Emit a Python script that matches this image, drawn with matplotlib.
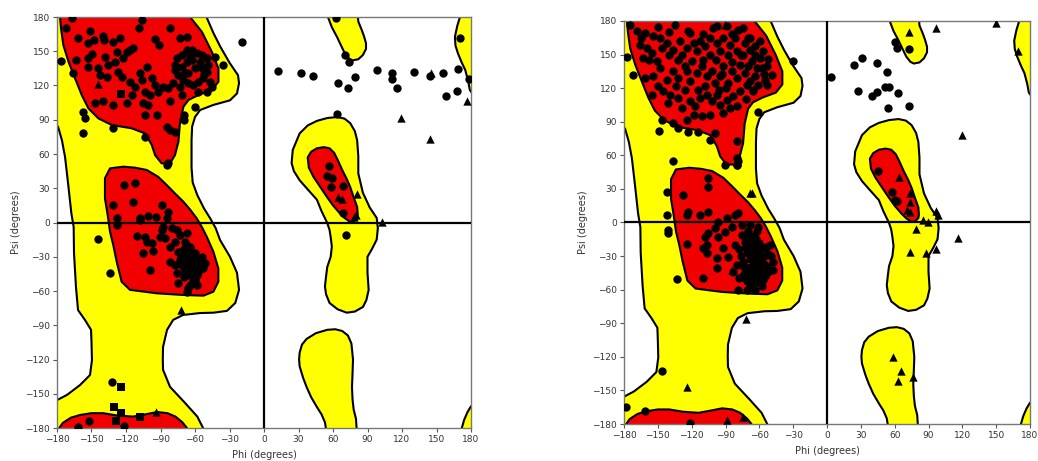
import matplotlib
matplotlib.use('Agg')
import matplotlib.pyplot as plt
import numpy as np

# --- favoured / allowed regions (phi, psi), drawn past the frame so edges get clipped
allowed_main = [(-190, 188), (-52, 188), (-50, 180), (-44, 166), (-38, 154), (-30, 140), (-22.6, 129),
                (-21.7, 122), (-23.5, 113), (-29.6, 107), (-44, 103), (-55.6, 98.5), (-60, 92.4),
                (-62.5, 84), (-63, 72), (-63, 60), (-63, 48), (-62, 35), (-58, 24), (-52, 12),
                (-47, 4), (-42, -5), (-38.2, -15.4), (-29.6, -30), (-23.5, -44), (-21.7, -59),
                (-25, -70.5), (-32.2, -77.4), (-44, -79), (-55.6, -79.3), (-70.4, -81), (-79, -85.3),
                (-84.3, -94), (-87.8, -109), (-88, -120), (-87.8, -129), (-81.7, -144), (-68.7, -158),
                (-58, -170), (-53, -180), (-51, -188), (-190, -188), (-190, -155.6), (-180, -155.6),
                (-171.3, -151), (-160, -142.4), (-151.3, -133.6), (-149.6, -120.5), (-150, -105),
                (-150.4, -94), (-155.6, -85.5), (-161.7, -76.7), (-163.5, -56.5), (-165.2, -27),
                (-165.5, -4), (-167.5, 8), (-170.4, 34.6), (-173, 57.4), (-175.7, 72), (-179, 83.6),
                (-182, 88), (-190, 88)]
favoured_beta = [(-177.4, 188), (-64.3, 188), (-64.3, 180), (-54, 167), (-45.4, 149.6), (-39.6, 135),
                 (-39.6, 123.3), (-45.4, 116), (-57, 111.7), (-65.7, 107.3), (-70, 101.5), (-73, 88.3),
                 (-74.4, 70.8), (-77.4, 59.1), (-81.7, 51.8), (-89, 51.8), (-94.7, 59), (-97.6, 68),
                 (-103.4, 78), (-115, 82.5), (-132.4, 85.4), (-144, 91.2), (-152.7, 100),
                 (-158.5, 111.7), (-164.3, 126.3), (-170, 140.9), (-174.5, 155.5), (-176.5, 170),
                 (-177.4, 180)]
favoured_alpha = [(-133.9, 47.4), (-122.3, 48.9), (-112, 48), (-102, 46), (-92, 40), (-84.6, 32.8),
                  (-77, 25), (-70.1, 18.2), (-64, 11), (-58.5, 3.6), (-54, -4), (-49.8, -12.4),
                  (-44, -25.6), (-39.7, -40.2), (-39.7, -51.9), (-44, -60.6), (-52.7, -64.1),
                  (-70, -63.5), (-93.3, -62), (-116.5, -59), (-123.8, -51.9), (-128.1, -34.3),
                  (-131, -20), (-133.9, -8), (-136, 7), (-138.3, 21.2), (-138.3, 38.7)]
favoured_bottom = [(-178, -188), (-178, -180), (-175, -175.6), (-168, -171), (-160, -168.6),
                   (-150, -167), (-140, -167), (-128, -169), (-114, -170), (-103, -168), (-93, -166),
                   (-84, -167), (-77, -170), (-71, -175), (-67, -180), (-66, -188)]
allowed_left_alpha = [(24, 52), (25, 63.5), (31, 78), (38, 85), (46, 89), (55, 91.5), (63.5, 92.4),
                      (70, 91), (75, 87), (79, 80), (81, 72), (82, 58), (82, 43), (86, 26), (92, 13),
                      (98, 4), (99, -5), (98, -15), (94, -23), (90, -30), (90, -44), (91, -59),
                      (89, -68), (86, -74), (79, -78), (72, -79), (64, -76), (57, -70.5), (54, -63),
                      (53, -56), (54, -47), (55, -39), (58, -30), (59, -21), (58, -13), (57, -6.5),
                      (55, -0.4), (50, 10), (46, 20), (38, 29), (31, 37), (26, 45)]
favoured_left_alpha = [(38, 57), (41, 62), (46, 65), (52, 66), (57, 65), (61, 61), (64, 55), (68, 46),
                       (72, 38), (75, 31), (78, 22), (81, 13.6), (81.5, 7), (81, 4), (78, 1),
                       (75, 0.5), (70, 4), (66, 8), (60, 15), (55, 22), (49, 31), (43, 40), (39, 48)]
allowed_top_blob = [(54, 188), (55.6, 180), (59, 171), (63.5, 162.5), (67, 155), (70.4, 148),
                    (74, 143.5), (77, 142), (82, 143), (86, 146.7), (88.7, 152), (88.7, 157),
                    (87, 163), (85, 168.6), (82, 176), (81, 188)]
allowed_right_top = [(171, 188), (170.4, 180), (168, 172), (166, 162.5), (166.5, 155), (168.7, 148),
                     (172, 140), (175, 133.6), (177.5, 124), (179, 116), (182, 112), (190, 112),
                     (190, 188)]
allowed_right_bottom = [(170, -188), (172, -180), (174, -173), (177, -166), (180, -161), (190, -158),
                        (190, -188)]
allowed_bottom_blob = [(31, -114), (33, -107), (37, -102), (45, -97), (55, -94), (62, -93.5),
                       (68, -95), (73, -99), (76, -106), (77.4, -120), (77, -132), (76.5, -144),
                       (77, -155), (78, -164), (80, -172), (81, -188), (55, -188), (53, -175),
                       (50, -168), (46, -161.6), (41, -153), (37, -144), (34, -136), (31, -126),
                       (30.5, -120)]

yellow_regions = [allowed_main, allowed_left_alpha, allowed_top_blob, allowed_right_top,
                  allowed_right_bottom, allowed_bottom_blob]
red_regions = [favoured_beta, favoured_alpha, favoured_bottom, favoured_left_alpha]

# --- left structure residues
left_circles = [
    (-167, 179), (-105.7, 177), (-172, 170.7), (-151, 167.7), (-109, 170.7), (-81.7, 170),
    (-162, 162), (-148, 160), (-139.7, 163.6), (-138.8, 160), (-131, 158.4), (-125, 162),
    (-94.7, 160.7), (-91.3, 155.5), (-73, 161.3), (-67, 162.8), (-176.5, 141.5), (-163.7, 142.3),
    (-152.7, 157), (-149.8, 148), (-153.3, 143.8), (-152.7, 136.5), (-165.8, 130.6), (-144, 135),
    (-138, 145.3), (-135.3, 138), (-142.6, 129.2), (-136.8, 127.7), (-128, 149.6), (-129.5, 140.9),
    (-126.6, 132), (-122.3, 143.8), (-119.4, 149.6), (-116.5, 151), (-113.6, 152.5), (-123.7, 127.7),
    (-116.5, 123.3), (-112.1, 119), (-115, 111.7), (-107.8, 130.6), (-106.3, 124.8), (-102, 136.5),
    (-103.4, 114.6), (-97.6, 126.3), (-94.7, 120.4), (-99.1, 111.7), (-119.4, 104.4), (-104.9, 104.4),
    (-100.5, 103), (-91.8, 114.6), (-87.4, 119), (-83.1, 117.5), (-78.8, 121.9), (-81.7, 106),
    (-71.5, 111.7), (-93.3, 94.2), (-103.4, 94.2), (-146.9, 104.4), (-139.7, 106), (-131, 103),
    (-157, 97), (-155.6, 91.2), (-131, 82.5), (-157, 78), (-103.4, 75.2), (-84.6, 83.9),
    (-81.7, 81), (-77.4, 79.6), (-83.1, 51.8), (-70, 94.2), (-70, 89.8), (-59.9, 101.5),
    (-49.8, 114.6), (-42.6, 145.3), (-35.3, 138), (-19.4, 157.8),
    (-77.4, 138), (-75.9, 143.8), (-71.5, 146.7), (-67.2, 151), (-62.8, 151), (-58.5, 148.2),
    (-54.1, 146.7), (-49.8, 143.8), (-48.4, 138), (-49.8, 132), (-52.7, 126.3), (-57.1, 123.3),
    (-61.4, 120.4), (-65.7, 121.9), (-70.1, 124.8), (-74.4, 129.2), (-77.4, 133.6), (-67.2, 140.9),
    (-62.8, 142.3), (-60, 135), (-65.7, 130.6), (-71.5, 136.5), (-54.1, 135), (-46.9, 123.3),
    (-57.1, 114.6), (-45.4, 119), (-64, 146), (-56, 141), (-52, 130), (-73, 119), (-69, 131),
    (-84, 50.4), (-121.7, 32.8), (-112.2, 34.3), (-131, 15.3), (-114.2, 18.2), (-89, 15.3),
    (-128.1, 3.6), (-128.1, -2.2), (-107.8, 4.2), (-107.8, 2.2), (-100.6, 6), (-93.9, 5.1),
    (-83.2, 9.5), (-84, 3.6), (-87.5, -3.7), (-89, -6.6), (-80.3, -5.1), (-75.9, -6.6),
    (-110.7, -11.5), (-103.5, -12.4), (-102, -16.8), (-97.7, -18.3), (-96.2, -25), (-104.9, -27),
    (-90.4, -12.4), (-86.1, -13.9), (-81.7, -21.2), (-77.4, -16.8), (-73, -11), (-67.2, -9.5),
    (-68.7, -16.8), (-64.3, -21.2), (-74.5, -25.6), (-70.1, -28.5), (-64.3, -28.5), (-59.9, -31.4),
    (-55.6, -34.3), (-51.3, -35.8), (-81.7, -34.3), (-77.4, -37.2), (-71.6, -37.2), (-67.2, -40.2),
    (-61.4, -40.2), (-57.1, -43.1), (-64.3, -46), (-68.7, -44.5), (-59.9, -50.4), (-64.3, -54.8),
    (-74.5, -53.3), (-67.2, -60.6), (-99.1, -41.6), (-144, -14.5), (-133.9, -44.5), (-70.1, -24.1),
    (-65.8, -32.9), (-73, -32.9), (-52.7, -40.2), (-58.5, -37.2),
    (-66, -36), (-62, -44), (-58, -46), (-70, -40), (-64, -24), (-60, -27), (-56, -40), (-54, -30),
    (-62, -50), (-66, -57), (-70, -48), (-58, -55), (-68, -20), (-61, -36), (-72, -30), (-76, -44),
    (-132.4, -139.5), (-152.2, -174.2), (-161.5, -178.9), (-121.5, -178),
    (62.6, 178.8), (70.4, 146.7), (74.2, 140.3), (12.4, 132.7), (31.9, 130.7), (42.9, 128.3),
    (64, 122.5), (72.7, 117.5), (79.1, 127.7), (98.5, 133.6), (111, 131.2), (111, 125.4),
    (115.4, 117.5), (130.4, 131.5), (144.3, 128.3), (155.4, 130.7), (158.3, 110.8), (167.5, 115.2),
    (169, 134.2), (170.4, 161.3), (178.3, 125.7), (63.8, 94.7), (56.8, 49.8), (55, 40.7),
    (58.8, 38.7), (58.2, 31.4), (69, 32.2), (68.4, 8), (71, -11)]
left_triangles = [(-144, 121), (-72.2, -76.7), (-93.9, -165.8), (145.2, 130.7), (176.2, 106.4),
                  (119.1, 91.2), (144.6, 73.1), (81.1, 25), (64.6, 22.6), (67.5, 20.6),
                  (78.2, 5.1), (80, 6.6), (102.3, 0.7)]
left_squares = [(-124, 112.5), (-124.3, -144.4), (-130.4, -161.9), (-124.3, -166.6),
                (-107.8, -170.1), (-129, -173.6)]

# --- right structure residues
right_circles = [
    (-174.7, 176.7), (-168.8, 170.8), (-161.4, 169.3), (-154, 166.3), (-148.1, 164.8), (-134.8, 176.7),
    (-123, 170.8), (-121.5, 169.3), (-100.8, 173.7), (-97.8, 175.2), (-89, 175.2), (-78.6, 172.3),
    (-74.2, 173.7), (-68.3, 164.8), (-177.6, 147.5), (-171.7, 132), (-165.8, 158.9), (-159.9, 155.9),
    (-162.9, 147), (-155.5, 151.4), (-151.1, 144), (-146.6, 155.9), (-142.2, 160.3), (-136.3, 154.4),
    (-130.4, 161.8), (-128.9, 149.9), (-124.4, 155.9), (-120, 144), (-115.6, 152.9), (-112.6, 161.8),
    (-108.2, 157.4), (-103.7, 149.9), (-97.8, 160.3), (-94.9, 152.9), (-91.9, 164.8), (-86, 158.9),
    (-81.6, 164.8), (-80.1, 152.9), (-72.7, 160.3), (-68.3, 154.4), (-63.8, 157.4), (-59.4, 161.8),
    (-56.5, 152.9), (-53.5, 139.5), (-49.1, 132), (-29.8, 144), (-161.4, 129.1), (-154, 130.6),
    (-142.2, 127.6), (-148.1, 138), (-136.3, 135), (-131.8, 129.1), (-124.4, 135), (-121.5, 126.1),
    (-115.6, 133.5), (-111.1, 139.5), (-106.7, 130.6), (-102.3, 135), (-99.3, 124.6), (-94.9, 130.6),
    (-91.9, 139.5), (-87.5, 124.6), (-84.5, 135), (-80.1, 129.1), (-77.1, 141), (-72.7, 133.5),
    (-71.2, 123.1), (-66.8, 144), (-63.8, 130.6), (-60.9, 123.1), (-57.9, 138), (-55, 127.6),
    (-59.4, 147), (-74.2, 149.9), (-155.5, 114.2), (-145.1, 117.2), (-139.2, 114.2), (-131.8, 111.2),
    (-140.7, 106.7), (-128.9, 102.3), (-121.5, 108.2), (-117.1, 103.8), (-112.6, 111.2),
    (-106.7, 114.2), (-102.3, 108.2), (-97.8, 114.2), (-94.9, 105.3), (-89, 109.7), (-83.1, 112.7),
    (-80.1, 103.8), (-77.1, 117.2), (-86, 102.3), (-111.1, 94.8), (-124.4, 91.9), (-146.6, 91.9),
    (-136.3, 88.9), (-131.8, 84.4), (-103.7, 74), (-99.3, 79.9), (-80.1, 72.5), (-80.1, 57.6),
    (-78.6, 54.6), (-80.1, 51.6), (-60.9, 98.4), (-148.7, 82), (-122.9, 80.5), (-114.1, 80.5),
    (-136.3, 55.2), (-68.3, 126.1), (-65.3, 117.2), (-53.5, 123.1),
    (-165, 165), (-158, 145), (-140, 150), (-132, 145), (-126, 140), (-118, 160), (-110, 145),
    (-104, 165), (-98, 145), (-93, 133), (-88, 150), (-84, 143), (-76, 150), (-70, 140), (-64, 150),
    (-62, 138), (-56, 133), (-52, 146), (-66, 118), (-72, 110), (-90, 120), (-96, 118), (-108, 122),
    (-114, 118), (-126, 118), (-134, 122), (-150, 122), (-118, 96), (-104, 96), (-92, 98),
    (-70, 165), (-84, 168), (-110, 168), (-140, 170), (-150, 175),
    (-90.4, 51.4), (-80.1, 51.4), (-105.2, 39.4), (-105.8, 32), (-142.2, 27.5), (-127.4, 24.6),
    (-123, 9.7), (-124.4, 6.7), (-112.6, 6.7), (-105.2, 9.7), (-142.2, 6.7), (-140.7, -6.7),
    (-140.7, -9.7), (-124.4, -19.5), (-133.3, -50.5), (-109.6, -49.3), (-96.3, 0.7), (-88.9, 3.7),
    (-81.6, 6.7), (-78.6, 8.2), (-99.3, -5.2), (-105.2, -9.7), (-108.2, -12.7), (-106.7, -20.1),
    (-109.6, -23.1), (-106.7, -27.6), (-96.3, -12.7), (-90.4, -8.2), (-84.5, -3.7), (-75.6, -2.2),
    (-68.3, -2.2), (-60.9, -3.7), (-81.6, -20.1), (-91.9, -23.1), (-97.8, -32), (-97.8, -41),
    (-87.5, -30.5), (-75.6, -11.2), (-72.7, -17.1), (-66.8, -14.2), (-63.8, -20.1), (-60.9, -26.1),
    (-58, -32), (-55, -38), (-52, -43.9), (-71.2, -26.1), (-74.2, -35), (-69.7, -41), (-63.8, -38),
    (-66.8, -46.9), (-60.9, -46.9), (-72.7, -49.9), (-80.1, -38), (-83.1, -43.9), (-78.6, -60.3),
    (-71.2, -60.3), (-56.4, -51.4), (-50.5, -20.1), (-47.6, -35), (-65.3, -55.8), (-68.3, -29),
    (-58, -23.1),
    (-70, -20), (-66, -25), (-62, -30), (-68, -33), (-64, -36), (-60, -40), (-57, -44), (-62, -45),
    (-66, -50), (-60, -53), (-55, -48), (-53, -40), (-56, -30), (-52, -28), (-70, -44), (-74, -40),
    (-76, -30), (-72, -22), (-65, -12), (-62, -8), (-70, -8), (-78, -24), (-60, -18), (-54, -22),
    (-50, -30), (-48, -42), (-58, -57), (-68, -56), (-64, -60), (-74, -46), (-78, -50), (-62, -24),
    (-67, -40), (-71, -52), (-57, -36), (-65, -43), (-61, -34), (-69, -27), (-63, -15), (-73, -13),
    (-146.6, -132.4), (-178.2, -164.6), (-161.4, -168.1), (-121.5, -178.9),
    (3.55, 130.3), (24.2, 140.7), (30.7, 147.2), (44.1, 142.8), (52.9, 134.1), (27.8, 117.8),
    (39.6, 113), (44.6, 116.3), (51.4, 120.7), (55.3, 121.3), (63.3, 115.4), (53.8, 102.6),
    (72.7, 104.1), (60.3, 161.5), (61.8, 156.2), (72.7, 154.7), (44.9, 46), (57.3, 27.5),
    (60.3, 20.1), (61.8, 19.2)]
right_triangles = [(-90.4, 176.7), (-66.8, 26), (-68.3, 26.4), (-84.5, -42.4), (-71.8, -86.5),
                   (-124.4, -146.7), (-88.9, -176.4), (-74.8, -174),
                   (72.7, 169.9), (96.7, 174), (149.9, 177.9), (169.7, 153.2), (119.4, 78.2),
                   (64.2, 40.3), (73.6, 26.6), (73.6, 18.6), (70.7, 11.2), (73.6, 9.7), (96.7, 10.6),
                   (98.7, 6.7), (85.4, 2.2), (89.9, 0), (78.9, -6.1), (116.5, -14.2), (73.6, -26.7),
                   (87.8, -27.6), (96.7, -23.7), (58.8, -120.5), (65.3, -132.7), (63.3, -141.3),
                   (76.6, -137.7)]
right_squares = []

ticks = list(range(-180, 181, 30))


def draw_panel(ax, circles, triangles, squares):
    for poly in yellow_regions:
        pts = np.array(poly)
        ax.fill(pts[:, 0], pts[:, 1], facecolor='#ffff00', edgecolor='black', linewidth=1.5,
                joinstyle='round', zorder=1)
    for poly in red_regions:
        pts = np.array(poly)
        ax.fill(pts[:, 0], pts[:, 1], facecolor='#f00000', edgecolor='black', linewidth=1.5,
                joinstyle='round', zorder=2)
    ax.axhline(0, color='black', linewidth=1.6, zorder=3)
    ax.axvline(0, color='black', linewidth=1.6, zorder=3)
    for pts, mk, sz in ((circles, 'o', 36), (triangles, '^', 36), (squares, 's', 30)):
        if len(pts):
            p = np.array(pts)
            ax.scatter(p[:, 0], p[:, 1], marker=mk, s=sz, color='black', linewidths=0, zorder=4)
    ax.set_xlim(-180, 180)
    ax.set_ylim(-180, 180)
    ax.set_xticks(ticks)
    ax.set_yticks(ticks)
    ax.tick_params(labelsize=6.5, length=3, color='#555555', labelcolor='#333333', pad=2)
    for sp in ax.spines.values():
        sp.set_color('#777777')
        sp.set_linewidth(1)
    ax.set_xlabel('Phi (degrees)', fontsize=7, color='#333333', labelpad=4)
    ax.set_ylabel('Psi (degrees)', fontsize=7, color='#333333', labelpad=3)


fig = plt.figure(figsize=(10.38, 4.61), dpi=100)
ax1 = fig.add_axes([57 / 1038, 1 - 428 / 461, 414 / 1038, 411 / 461])
ax2 = fig.add_axes([624 / 1038, 1 - 424 / 461, 406 / 1038, 403 / 461])
draw_panel(ax1, left_circles, left_triangles, left_squares)
draw_panel(ax2, right_circles, right_triangles, right_squares)
fig.savefig('out.png', dpi=100)
